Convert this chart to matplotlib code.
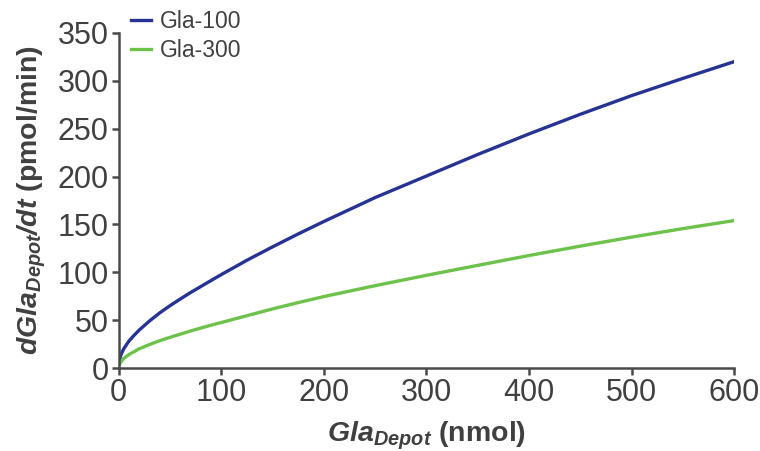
import matplotlib
matplotlib.use("Agg")
import matplotlib.pyplot as plt

plt.rcParams['font.family'] = ['Liberation Sans', 'DejaVu Sans']
plt.rcParams['mathtext.fontset'] = 'custom'
plt.rcParams['mathtext.rm'] = 'Liberation Sans'
plt.rcParams['mathtext.bf'] = 'Liberation Sans:bold'
plt.rcParams['mathtext.it'] = 'Liberation Sans:italic'
plt.rcParams['mathtext.bfit'] = 'Liberation Sans:bold:italic'

gla_depot = [0, 2, 5, 10, 15, 20, 30, 40, 50, 60, 70, 80, 90, 100, 125, 150, 175, 200,
             250, 300, 350, 400, 450, 500, 550, 600]
gla100 = [4, 13, 20, 28, 34, 39.5, 49, 57.5, 65, 72, 78.7, 85, 91.3, 97.5, 112.5, 126.5, 140, 153,
          178, 200.5, 223, 244.5, 265, 284.5, 302.5, 320]
gla300 = [2, 6, 10, 14, 17, 20, 24.5, 28.5, 32, 35.3, 38.6, 41.7, 44.7, 47.5, 54.6, 61.7, 68.3, 74.6,
          86, 96.8, 107.2, 117.5, 127.3, 136.7, 145.6, 154]
series_names = ["Gla-100", "Gla-300"]
x_ticks = [0, 100, 200, 300, 400, 500, 600]
y_ticks = [0, 50, 100, 150, 200, 250, 300, 350]

text_col = '#404040'
axis_col = '#4a4a4a'

fig = plt.figure(figsize=(7.6, 4.51), dpi=100)
ax = fig.add_axes([0.156, 0.184, 0.810, 0.743])

ax.plot(gla_depot, gla100, color='#263393', lw=2.4, label=series_names[0], solid_joinstyle='round')
ax.plot(gla_depot, gla300, color='#6cc24a', lw=2.4, label=series_names[1], solid_joinstyle='round')

ax.set_xlim(0, 600)
ax.set_ylim(0, 350)
ax.set_xticks(x_ticks)
ax.set_yticks(y_ticks)
for s in ['top', 'right']:
    ax.spines[s].set_visible(False)
for s in ['left', 'bottom']:
    ax.spines[s].set_linewidth(1.8)
    ax.spines[s].set_color(axis_col)
ax.tick_params(axis='both', direction='out', length=5, width=1.8, color=axis_col,
               labelsize=22, labelcolor=text_col, pad=2)

ax.set_xlabel(r'$\mathbfit{Gla}_{\mathbfit{Depot}}$ (nmol)', fontsize=20.5, fontweight='bold',
              color=text_col, labelpad=8.5)
ax.set_ylabel(r'$\mathbfit{dGla}_{\mathbfit{Depot}}\mathbfit{/dt}$ (pmol/min)', fontsize=20.5,
              fontweight='bold', color=text_col, labelpad=7)

leg = ax.legend(loc='upper left', bbox_to_anchor=(131 / 760, 1 - 10 / 451),
                bbox_transform=fig.transFigure, frameon=False, fontsize=16.5,
                handlelength=0.87, handletextpad=0.4, labelspacing=0.25,
                borderaxespad=0, borderpad=0)
for t in leg.get_texts():
    t.set_color(text_col)

fig.savefig('out.png', dpi=100)
